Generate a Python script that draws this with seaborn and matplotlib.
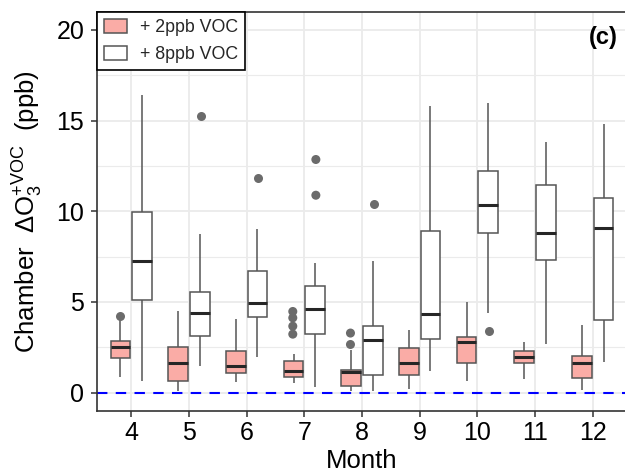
import numpy as np
import pandas as pd
import matplotlib
matplotlib.use("Agg")
import matplotlib.pyplot as plt
from matplotlib.patches import Patch
import seaborn as sns

# ---------------- data ----------------
months = ["4", "5", "6", "7", "8", "9", "10", "11", "12"]
groups = ["+ 2ppb VOC", "+ 8ppb VOC"]

# + 2ppb VOC : whisker low, Q1, median, Q3, whisker high
p2_lo  = [0.86, 0.07, 0.59, 0.50, 0.07, 0.17, 0.64, 0.77, 0.13]
p2_q1  = [1.93, 0.66, 1.08, 0.88, 0.37, 0.99, 1.65, 1.64, 0.81]
p2_med = [2.52, 1.65, 1.47, 1.18, 1.11, 1.64, 2.76, 1.97, 1.62]
p2_q3  = [2.83, 2.50, 2.28, 1.73, 1.26, 2.48, 3.06, 2.28, 2.00]
p2_hi  = [3.99, 4.49, 4.03, 2.10, 2.37, 3.44, 4.98, 2.79, 3.71]

# + 8ppb VOC
p8_lo  = [0.64, 1.49, 1.97, 0.31, 0.07, 1.19, 4.41, 2.70, 1.67]
p8_q1  = [5.09, 3.14, 4.15, 3.22, 0.97, 2.94, 8.81, 7.30, 4.01]
p8_med = [7.26, 4.36, 4.96, 4.60, 2.89, 4.32, 10.35, 8.77, 9.10]
p8_q3  = [9.94, 5.53, 6.71, 5.85, 3.66, 8.90, 12.24, 11.43, 10.70]
p8_hi  = [16.40, 8.75, 9.00, 7.17, 7.24, 15.79, 15.97, 13.82, 14.78]

# outliers
out_month = ["4", "7", "7", "7", "7", "8", "8",
             "5", "6", "7", "7", "8", "10"]
out_group = ["+ 2ppb VOC"] * 7 + ["+ 8ppb VOC"] * 6
out_value = [4.21, 4.47, 4.12, 3.66, 3.22, 2.65, 3.28,
             15.24, 11.84, 10.88, 12.85, 10.39, 3.38]

# ---------------- styling ----------------
pink = "#FAACA6"
edge = "#555555"

sns.set_theme(style="whitegrid")
plt.rcParams["font.family"] = ["Liberation Sans", "DejaVu Sans"]
plt.rcParams["mathtext.fontset"] = "custom"
plt.rcParams["mathtext.rm"] = "Liberation Sans"
plt.rcParams["mathtext.it"] = "Liberation Sans"
plt.rcParams["mathtext.bf"] = "Liberation Sans:bold"

# long table built from the arrays
rows = []
for i, m in enumerate(months):
    for g, stats in ((groups[0], (p2_lo, p2_q1, p2_med, p2_q3, p2_hi)),
                     (groups[1], (p8_lo, p8_q1, p8_med, p8_q3, p8_hi))):
        for arr in stats:
            rows.append((m, g, arr[i]))
df = pd.DataFrame(rows, columns=["Month", "Group", "Value"])
odf = pd.DataFrame({"Month": out_month, "Group": out_group, "Value": out_value})

fig = plt.figure(figsize=(6.25, 4.75), dpi=100)
ax = fig.add_axes([0.1547, 0.1354, 0.849, 0.84])

ax.axhline(0, color="#0000FF", ls=(0, (5, 4)), lw=1.5, zorder=1.5)

sns.boxplot(data=df, x="Month", y="Value", hue="Group", order=months,
            hue_order=groups, palette=[pink, "white"], saturation=1,
            whis=(0, 100), showfliers=False, showcaps=False,
            width=0.75, gap=0.08, linecolor=edge, linewidth=1.1,
            medianprops=dict(color="#262626", linewidth=2.2),
            legend=False, ax=ax, zorder=3)

sns.stripplot(data=odf, x="Month", y="Value", hue="Group", order=months,
              hue_order=groups, dodge=True, jitter=False,
              palette=["#6b6b6b", "#6b6b6b"], size=6.5, linewidth=0,
              legend=False, ax=ax, zorder=4)

ax.set_xlim(-0.6, 8.6)
ax.set_ylim(-1, 21)
ax.set_yticks([0, 5, 10, 15, 20])
ax.set_yticks([2.5, 7.5, 12.5, 17.5], minor=True)
ax.grid(True, which="major", color="#EBEBEB", lw=1.3)
ax.grid(True, which="minor", axis="y", color="#EBEBEB", lw=0.8)
ax.set_axisbelow(True)

for s in ax.spines.values():
    s.set_color("#333333")
    s.set_linewidth(1.2)

ax.tick_params(axis="both", which="major", length=4, width=1.1,
               color="#333333", labelsize=18, labelcolor="black",
               direction="out", left=True, bottom=True)
ax.tick_params(axis="y", pad=5)
ax.tick_params(axis="x", pad=3.5)
ax.tick_params(which="minor", length=0)

ax.set_xlabel("Month", fontsize=18.5, color="black")
ax.set_ylabel(r"Chamber  $\Delta$O$_3^{+VOC}$  (ppb)", fontsize=18.5,
              color="black")
ax.xaxis.set_label_coords(0.5, -0.097)
ax.yaxis.set_label_coords(-0.098, 0.5)

ax.text(0.982, 0.965, "(c)", transform=ax.transAxes, ha="right", va="top",
        fontsize=17, fontweight="bold", color="black")

handles = [Patch(facecolor=pink, edgecolor=edge, lw=1.1),
           Patch(facecolor="white", edgecolor=edge, lw=1.1)]
leg = ax.legend(handles, groups, loc="upper left", bbox_to_anchor=(0, 1),
                borderaxespad=0, frameon=True, fancybox=False,
                edgecolor="black", framealpha=1, fontsize=12.8,
                handlelength=1.3, handleheight=0.8, handletextpad=0.7,
                borderpad=0.42, labelspacing=0.55)
leg.get_frame().set_linewidth(1.2)
leg.set_zorder(10)

fig.savefig("out.png", dpi=100)
